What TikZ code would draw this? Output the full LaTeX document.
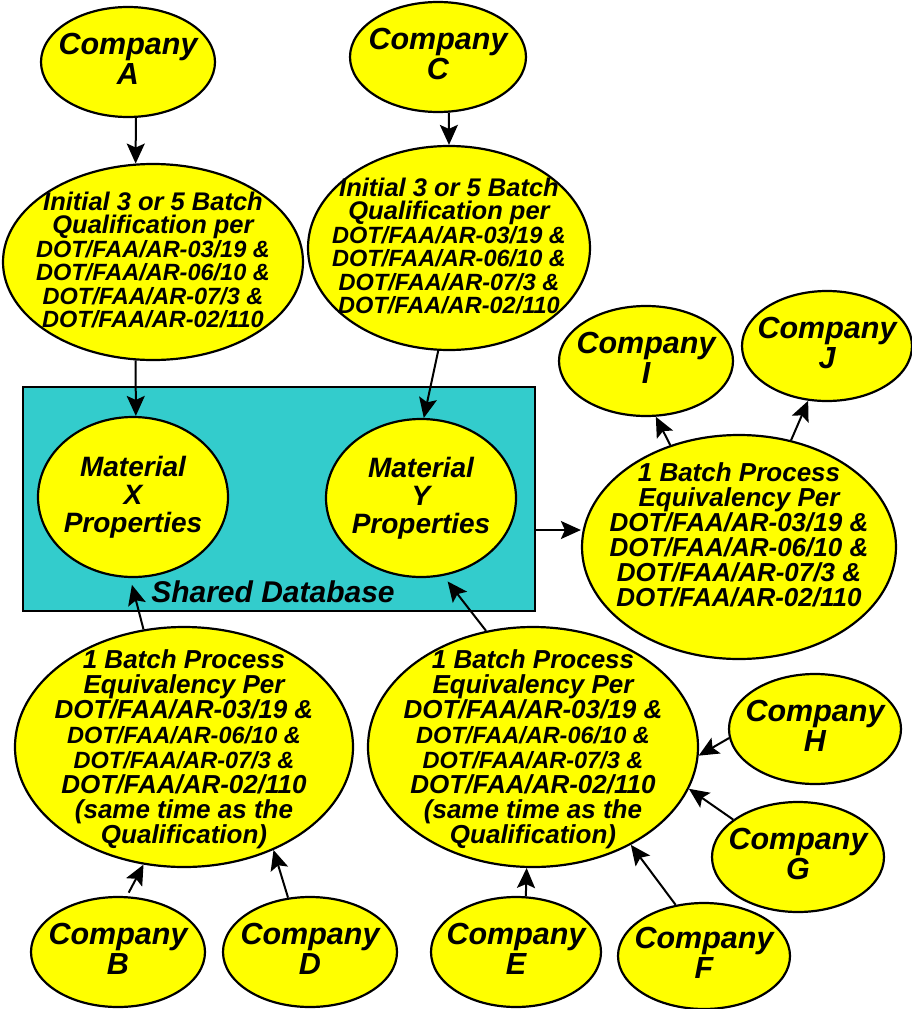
\documentclass[tikz,border=0pt]{standalone}
\usepackage{fontspec}
\setmainfont{Liberation Sans}
\usetikzlibrary{arrows.meta,shapes.geometric}
\definecolor{ylw}{RGB}{255,255,0}
\definecolor{tealbox}{RGB}{51,204,204}
\tikzset{
  ell/.style={ellipse,draw=black,line width=2.2pt,fill=ylw,inner sep=0pt},
  txt/.style={inner sep=0pt,align=center,font=\bfseries\itshape},
  comp/.style={txt,font=\bfseries\itshape\fontsize{30.5}{30}\selectfont},
  arr/.style={line width=2pt,arrows={-Stealth[length=20pt,width=18pt,inset=4pt]}},
}
\newcommand{\smallline}[1]{{\fontsize{23.5}{23.5}\selectfont #1}}
\begin{document}
\begin{tikzpicture}[x=1pt,y=-1pt]
\useasboundingbox (0,0) rectangle (912,1009);
% shared database box
\node[draw=black,line width=2.2pt,fill=tealbox,minimum width=512pt,minimum height=224pt,inner sep=0pt] (R) at (279,499) {};
\node[txt,font=\bfseries\itshape\fontsize{30}{30}\selectfont] (sd) at (273,592) {Shared Database};
% ellipses
\node[ell,minimum width=174pt,minimum height=110pt] (A) at (128,62) {};
\node[ell,minimum width=176pt,minimum height=110pt] (C) at (438,57) {};
\node[ell,minimum width=300pt,minimum height=196pt] (IA) at (153,262) {};
\node[ell,minimum width=282pt,minimum height=204pt] (IC) at (449,248) {};
\node[ell,minimum width=190pt,minimum height=160pt] (X) at (133,497) {};
\node[ell,minimum width=190pt,minimum height=158pt] (Y) at (421,498) {};
\node[ell,minimum width=174pt,minimum height=110pt] (I) at (646,361) {};
\node[ell,minimum width=170pt,minimum height=110pt] (J) at (827,346) {};
\node[ell,minimum width=314pt,minimum height=224pt] (RB) at (739,547) {};
\node[ell,minimum width=338pt,minimum height=240pt] (LB) at (184,747) {};
\node[ell,minimum width=330pt,minimum height=240pt] (MB) at (533,747) {};
\node[ell,minimum width=172pt,minimum height=110pt] (H) at (815,729) {};
\node[ell,minimum width=172pt,minimum height=110pt] (G) at (798,857) {};
\node[ell,minimum width=170pt,minimum height=110pt] (E) at (516,952) {};
\node[ell,minimum width=172pt,minimum height=106pt] (F) at (704,956) {};
\node[ell,minimum width=174pt,minimum height=110pt] (B) at (118,952) {};
\node[ell,minimum width=174pt,minimum height=110pt] (D) at (310,952) {};
% texts
\node[comp] (At) at ([yshift=3pt]A.center) {Company\\A};
\node[comp] (Ct) at ([yshift=3pt]C.center) {Company\\C};
\node[comp] (It) at ([yshift=3pt]I.center) {Company\\I};
\node[comp] (Jt) at ([yshift=3pt]J.center) {Company\\J};
\node[comp] (Ht) at ([yshift=3pt]H.center) {Company\\H};
\node[comp] (Gt) at ([yshift=3pt]G.center) {Company\\G};
\node[comp] (Et) at ([yshift=3pt]E.center) {Company\\E};
\node[comp] (Ft) at ([yshift=3pt]F.center) {Company\\F};
\node[comp] (Bt) at ([yshift=3pt]B.center) {Company\\B};
\node[comp] (Dt) at ([yshift=3pt]D.center) {Company\\D};
\node[txt,font=\bfseries\itshape\fontsize{25.5}{23.5}\selectfont] (IAt) at ([yshift=2pt]IA.center)
 {Initial 3 or 5 Batch\\Qualification per\\\smallline{DOT/FAA/AR-03/19 \&}\\\smallline{DOT/FAA/AR-06/10 \&}\\\smallline{DOT/FAA/AR-07/3 \&}\\\smallline{DOT/FAA/AR-02/110}};
\node[txt,font=\bfseries\itshape\fontsize{25.5}{23.5}\selectfont] (ICt) at ([yshift=2pt]IC.center)
 {Initial 3 or 5 Batch\\Qualification per\\\smallline{DOT/FAA/AR-03/19 \&}\\\smallline{DOT/FAA/AR-06/10 \&}\\\smallline{DOT/FAA/AR-07/3 \&}\\\smallline{DOT/FAA/AR-02/110}};
\node[txt,font=\bfseries\itshape\fontsize{28}{28}\selectfont] (Xt) at (X.center) {Material\\X\\Properties};
\node[txt,font=\bfseries\itshape\fontsize{28}{28}\selectfont] (Yt) at (Y.center) {Material\\Y\\Properties};
\node[txt,font=\bfseries\itshape\fontsize{26}{25}\selectfont] (RBt) at ([yshift=12pt]RB.center)
 {1 Batch Process\\Equivalency Per\\DOT/FAA/AR-03/19 \&\\DOT/FAA/AR-06/10 \&\\DOT/FAA/AR-07/3 \&\\DOT/FAA/AR-02/110};
\node[txt,font=\bfseries\itshape\fontsize{26}{25}\selectfont] (LBt) at ([yshift=-2pt]LB.center)
 {1 Batch Process\\Equivalency Per\\DOT/FAA/AR-03/19 \&\\\smallline{DOT/FAA/AR-06/10 \&}\\\smallline{DOT/FAA/AR-07/3 \&}\\DOT/FAA/AR-02/110\\(same time as the\\Qualification)};
\node[txt,font=\bfseries\itshape\fontsize{26}{25}\selectfont] (MBt) at ([yshift=-2pt]MB.center)
 {1 Batch Process\\Equivalency Per\\DOT/FAA/AR-03/19 \&\\\smallline{DOT/FAA/AR-06/10 \&}\\\smallline{DOT/FAA/AR-07/3 \&}\\DOT/FAA/AR-02/110\\(same time as the\\Qualification)};
% connectors
\draw[arr] (A.-82.7) -- (IA.100.3);
\draw[arr] (C.-79.7) -- (IC.90.6);
\draw[arr] (IA.-100.4) -- (X.88.5);
\draw[arr] (IC.-96.7) -- (Y.88.6);
\draw[arr] ([yshift=-31pt]R.east) -- ([yshift=17pt]RB.west);
\draw[arr] (RB.124.4) -- (I.-80.2);
\draw[arr] (RB.64.7) -- (J.-109.3);
\draw[arr,shorten >=7pt] (LB.109.9) -- (X.-92);
\draw[arr,shorten >=7pt] (MB.112.9) -- (Y.-74);
\draw[arr,shorten <=4pt] (B.81.7) -- (LB.-109.9);
\draw[arr] (D.112.5) -- (LB.-49.2);
\draw[arr] (E.80.5) -- (MB.-93.8);
\draw[arr] (F.119.5) -- (MB.-45);
\draw[arr] (G.150) -- (MB.-15.5);
\draw[arr] (H.186) -- (MB.-3.1);
\end{tikzpicture}
\end{document}
